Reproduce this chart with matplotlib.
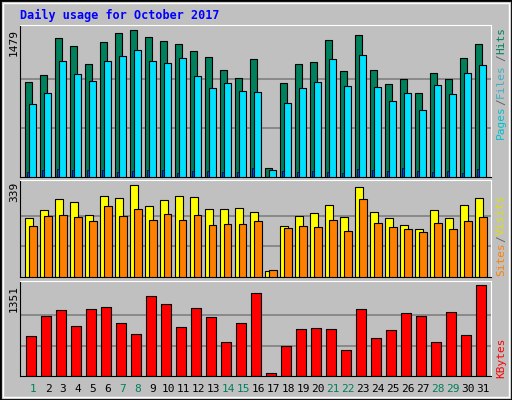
import matplotlib
matplotlib.use("Agg")
import matplotlib.pyplot as plt
from matplotlib.patches import Rectangle

days = list(range(1, 32))
weekend = [1, 7, 8, 14, 15, 21, 22, 28, 29]

hits = [958, 1025, 1398, 1318, 1136, 1358, 1449, 1479, 1408, 1368, 1337, 1267, 1206, 1075, 995, 1186,
        87, 944, 1136, 1156, 1378, 1065, 1428, 1075, 934, 985, 843, 1045, 985, 1196, 1337]
files = [732, 843, 1166, 1035, 964, 1166, 1216, 1277, 1166, 1146, 1196, 1015, 894, 944, 864, 853,
         67, 743, 894, 954, 1186, 914, 1226, 904, 763, 843, 672, 924, 833, 1045, 1126]
pages = [47, 67, 77, 67, 67, 67, 47, 57, 67, 67, 37, 57, 57, 47, 47, 87,
         5, 57, 47, 57, 47, 37, 77, 67, 57, 87, 57, 47, 57, 37, 77]
visits = [217, 247, 287, 276, 228, 298, 291, 339, 262, 284, 298, 295, 251, 251, 254, 239,
          22, 188, 225, 236, 265, 221, 332, 239, 217, 192, 177, 247, 217, 265, 291]
sites = [188, 225, 228, 221, 206, 262, 225, 251, 210, 232, 210, 228, 192, 195, 195, 206,
         26, 181, 188, 184, 210, 169, 287, 199, 184, 177, 166, 199, 177, 206, 221]
kbytes = [597, 892, 981, 744, 996, 1025, 789, 626, 1188, 1070, 730, 1011, 878, 508, 789, 1233,
          49, 449, 700, 715, 700, 389, 996, 567, 685, 937, 892, 508, 951, 611, 1351]

W, H = 512, 400
fig = plt.figure(figsize=(W / 100, H / 100), dpi=100, facecolor="#C0C0C0")
fig.patches.append(Rectangle((0, 0), 1, 1, transform=fig.transFigure, fill=False,
                             edgecolor="black", linewidth=2))
fig.patches.append(Rectangle((3 / W, 3 / H), 1 - 6 / W, 1 - 6 / H, transform=fig.transFigure,
                             fill=False, edgecolor="white", linewidth=1))

mono = "DejaVu Sans Mono"


def panel(top, bottom):
    ax = fig.add_axes([20 / W, 1 - bottom / H, 471 / W, (bottom - top) / H])
    ax.set_facecolor("#C0C0C0")
    ax.set_xlim(-0.33, 31.07)
    ax.set_xticks([])
    ax.set_yticks([])
    for s in ["left", "bottom"]:
        ax.spines[s].set_color("black")
    for s in ["right", "top"]:
        ax.spines[s].set_color("white")
    return ax


def grid(ax, vmax, frac):
    ax.set_ylim(0, vmax / frac)
    for g in (1 / 3, 2 / 3):
        ax.axhline(vmax * g, color="#808080", lw=1.2, zorder=0)


x0 = [d - 1 for d in days]

ax1 = panel(25, 177)
grid(ax1, max(hits), 147 / 152)
ax1.bar([x + 0.0 for x in x0], hits, width=0.47, align="edge", color="#00805C", edgecolor="black", lw=0.8, zorder=2)
ax1.bar([x + 0.27 for x in x0], files, width=0.47, align="edge", color="#00E0FF", edgecolor="black", lw=0.8, zorder=3)
ax1.bar([x + 0.13 for x in x0], pages, width=0.13, align="edge", color="#0040FF", edgecolor="black", lw=0.5, zorder=4)

ax2 = panel(180, 277)
grid(ax2, max(visits), 92 / 97)
ax2.bar([x + 0.0 for x in x0], visits, width=0.53, align="edge", color="#FFFF00", edgecolor="black", lw=0.8, zorder=2)
ax2.bar([x + 0.27 for x in x0], sites, width=0.5, align="edge", color="#FF8000", edgecolor="black", lw=0.8, zorder=3)

ax3 = panel(281, 376)
grid(ax3, max(kbytes), 91 / 95)
ax3.bar([x + 0.07 for x in x0], kbytes, width=0.67, align="edge", color="#FF0000", edgecolor="black", lw=0.8, zorder=2)


def ftext(x, y, s, **kw):
    fig.text(x / W, 1 - y / H, s, family=mono, **kw)


ftext(20, 15, "Daily usage for October 2017", color="#0000FF", fontsize=8.5, weight="bold", va="center")

for d in days:
    ftext(25 + (d - 1) * 15 + 8, 389, str(d), fontsize=8, ha="center", va="center",
          color="#00805C" if d in weekend else "black")

ftext(14, 29, str(max(hits)), rotation=90, fontsize=8, ha="center", va="top")
ftext(14, 182, str(max(visits)), rotation=90, fontsize=8, ha="center", va="top")
ftext(14, 285, str(max(kbytes)), rotation=90, fontsize=8, ha="center", va="top")

rk = dict(rotation=90, fontsize=8, ha="center", va="center")
ftext(501, 41, "Hits", color="#00805C", **rk)
ftext(501, 58, "/", color="#606060", **rk)
ftext(501, 81, "Files", color="#40B0C0", **rk)
ftext(501, 102, "/", color="#606060", **rk)
ftext(501, 122, "Pages", color="#00C0D0", **rk)
ftext(501, 215, "Visits", color="#E0E000", **rk)
ftext(501, 239, "/", color="#606060", **rk)
ftext(501, 259, "Sites", color="#FF8000", **rk)
ftext(501, 358, "KBytes", color="#FF0000", **rk)

fig.savefig("out.png", dpi=100, facecolor=fig.get_facecolor())
